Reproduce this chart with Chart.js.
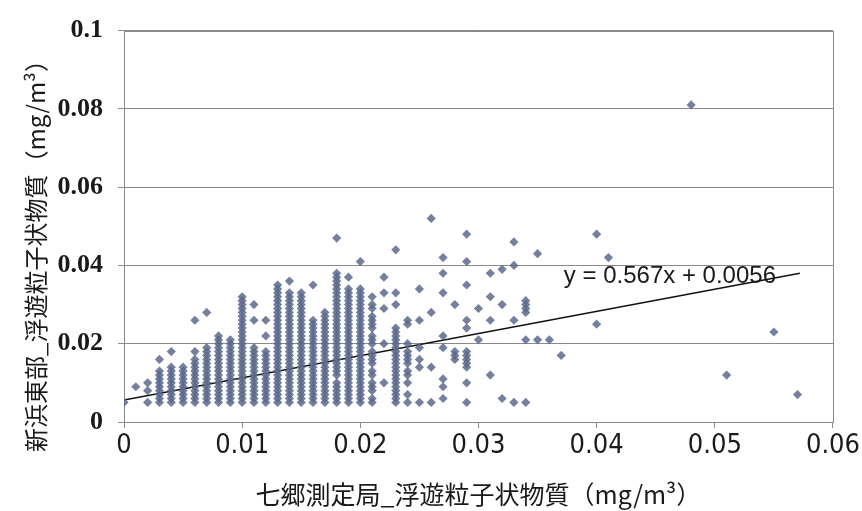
<!DOCTYPE html>
<html>
<head>
<meta charset="utf-8">
<script src="https://cdn.jsdelivr.net/npm/chart.js@4.4.1/dist/chart.umd.min.js"></script>
<style>
  html, body { margin: 0; padding: 0; background: #fff; }
  #wrap { width: 862px; height: 511px; }
</style>
</head>
<body>
<div id="wrap"><canvas id="scatter"></canvas></div>
<script>
// x columns of the scatter (mg/m3 x 1000)
let colX = [0, 1, 2, 3, 4, 5, 6, 7, 8, 9, 10, 11, 12, 13, 14, 15, 16, 17, 18, 19, 20,
            21, 22, 23, 24, 25, 26, 27, 28, 29, 30, 31, 32, 33, 34, 35, 36, 37, 40, 41,
            48, 51, 55, 57];
// y readings for each column (mg/m3 x 1000)
let colY = [
    [5],
    [9],
    [5, 8, 10],
    [5, 6, 7, 8, 9, 10, 11, 12, 13, 16],
    [5, 6, 7, 8, 9, 10, 11, 12, 13, 14, 18],
    [5, 6, 7, 8, 9, 10, 11, 12, 13, 14],
    [5, 6, 7, 8, 9, 10, 11, 12, 13, 14, 15, 16, 18, 26],
    [5, 6, 7, 8, 9, 10, 11, 12, 13, 14, 15, 16, 17, 18, 19, 28],
    [5, 6, 7, 8, 9, 10, 11, 12, 13, 14, 15, 16, 17, 18, 19, 20, 21, 22],
    [5, 6, 7, 8, 9, 10, 11, 12, 13, 14, 15, 16, 17, 18, 19, 20, 21],
    [5, 6, 7, 8, 9, 10, 11, 12, 13, 14, 15, 16, 17, 18, 19, 20, 21, 22, 23, 24, 25, 26, 27, 28, 29, 30, 31, 32],
    [5, 6, 7, 8, 9, 10, 11, 12, 13, 14, 15, 16, 17, 18, 19, 26, 30],
    [5, 6, 7, 8, 9, 10, 11, 12, 13, 14, 15, 16, 17, 18, 22, 26],
    [5, 6, 7, 8, 9, 10, 11, 12, 13, 14, 15, 16, 17, 18, 19, 20, 21, 22, 23, 24, 25, 26, 27, 28, 29, 30, 31, 32, 33, 34, 35],
    [5, 6, 7, 8, 9, 10, 11, 12, 13, 14, 15, 16, 17, 18, 19, 20, 21, 22, 23, 24, 25, 26, 27, 28, 29, 30, 31, 32, 33, 36],
    [5, 6, 7, 8, 9, 10, 11, 12, 13, 14, 15, 16, 17, 18, 19, 20, 21, 22, 23, 24, 25, 26, 27, 28, 29, 30, 31, 32, 33],
    [5, 6, 7, 8, 9, 10, 11, 12, 13, 14, 15, 16, 17, 18, 19, 20, 21, 22, 23, 24, 25, 26, 35],
    [5, 6, 7, 8, 9, 10, 11, 12, 13, 14, 15, 16, 17, 18, 19, 20, 21, 22, 23, 24, 25, 26, 27, 28],
    [5, 6, 7, 8, 9, 10, 12, 13, 14, 15, 16, 17, 18, 19, 20, 21, 22, 23, 24, 25, 26, 27, 28, 29, 30, 31, 32, 33, 34, 35, 36, 37, 38, 47],
    [5, 6, 7, 8, 9, 10, 11, 12, 13, 14, 15, 16, 17, 18, 19, 20, 21, 22, 23, 24, 25, 26, 27, 28, 29, 30, 31, 32, 33, 34, 37],
    [5, 6, 7, 8, 9, 10, 11, 12, 13, 14, 15, 16, 17, 18, 19, 20, 21, 22, 23, 24, 25, 26, 27, 28, 29, 30, 31, 32, 33, 34, 41],
    [5, 6, 8, 9, 10, 12, 13, 15, 16, 17, 18, 20, 21, 22, 24, 25, 26, 27, 29, 30, 32],
    [10, 20, 29, 33, 37],
    [5, 6, 7, 8, 9, 10, 11, 12, 13, 14, 15, 16, 17, 18, 19, 20, 21, 22, 23, 24, 30, 33, 44],
    [5, 7, 10, 12, 13, 15, 16, 17, 18, 20, 25, 26],
    [5, 14, 16, 19, 26, 34],
    [5, 14, 28, 52],
    [6, 9, 11, 19, 22, 33, 38, 42],
    [16, 17, 18, 30],
    [5, 10, 14, 15, 16, 17, 18, 24, 26, 35, 41, 48],
    [21, 29],
    [12, 26, 32, 38],
    [6, 30, 39],
    [5, 26, 40, 46],
    [5, 21, 28, 29, 30, 31],
    [21, 43],
    [21],
    [17],
    [25, 48],
    [42],
    [81],
    [12],
    [23],
    [7]
];
// trendline shown on the chart
let trendSlope = 0.567;
let trendIntercept = 0.0056;
let trendRange = [0, 0.0572];
let trendLabel = "y = 0.567x + 0.0056";

let xTicks = [0, 0.01, 0.02, 0.03, 0.04, 0.05, 0.06];
let yTicks = [0, 0.02, 0.04, 0.06, 0.08, 0.1];

let xTitle = "七郷測定局_浮遊粒子状物質（mg/m³）";
let yTitle = "新浜東部_浮遊粒子状物質（mg/m³）";

let points = [];
for (let i = 0; i < colX.length; i++) {
    for (let y of colY[i]) {
        points.push({ x: colX[i] / 1000, y: y / 1000 });
    }
}
let trendPoints = trendRange.map(x => ({ x: x, y: trendSlope * x + trendIntercept }));

let gridColor = "#8a8a8a";
let markColor = "rgba(92,106,140,0.85)";

// frame around the plot area + equation + vertical y title
let extrasPlugin = {
    id: "extras",
    beforeDatasetsDraw(chart) {
        let ctx = chart.ctx;
        let a = chart.chartArea;
        ctx.save();
        ctx.strokeStyle = gridColor;
        ctx.lineWidth = 1;
        ctx.strokeRect(Math.round(a.left) + 0.5, Math.round(a.top) + 0.5,
            Math.round(a.right - a.left), Math.round(a.bottom - a.top));
        ctx.restore();
    },
    afterDatasetsDraw(chart) {
        let ctx = chart.ctx;
        let xs = chart.scales.x, ys = chart.scales.y;
        ctx.save();
        ctx.fillStyle = "#1a1a1a";
        ctx.font = "24px 'Liberation Sans Narrow', 'Liberation Sans', sans-serif";
        ctx.textAlign = "center";
        ctx.textBaseline = "middle";
        ctx.fillText(trendLabel, xs.getPixelForValue(0.0462), ys.getPixelForValue(0.0372));
        ctx.restore();

        ctx.save();
        ctx.translate(36, 250);
        ctx.rotate(-Math.PI / 2);
        ctx.fillStyle = "#1a1a1a";
        ctx.font = "24px 'Noto Sans CJK JP', sans-serif";
        ctx.textAlign = "center";
        ctx.textBaseline = "middle";
        ctx.fillText(yTitle, 0, 0);
        ctx.restore();
    }
};

new Chart(document.getElementById("scatter"), {
    type: "scatter",
    data: {
        datasets: [
            {
                label: "data",
                data: points,
                pointStyle: "rectRot",
                pointRadius: 4.6,
                pointHoverRadius: 4.6,
                backgroundColor: markColor,
                borderColor: markColor,
                borderWidth: 0
            },
            {
                type: "line",
                label: "trend",
                data: trendPoints,
                borderColor: "#111",
                borderWidth: 1.5,
                pointRadius: 0,
                fill: false
            }
        ]
    },
    options: {
        responsive: true,
        maintainAspectRatio: false,
        animation: false,
        layout: { padding: { left: 0, top: 25, right: 29, bottom: 0 } },
        plugins: {
            legend: { display: false },
            tooltip: { enabled: false }
        },
        scales: {
            x: {
                type: "linear",
                min: 0,
                max: 0.06,
                afterBuildTicks: scale => { scale.ticks = xTicks.map(v => ({ value: v })); },
                afterFit: scale => { scale.height = 89; },
                grid: { drawOnChartArea: false, drawTicks: true, tickLength: 6, color: gridColor },
                border: { display: true, color: gridColor },
                ticks: {
                    color: "#1a1a1a",
                    padding: 2,
                    maxRotation: 0,
                    font: { family: "'Liberation Sans Narrow', 'DejaVu Sans Condensed', sans-serif", size: 27 },
                    callback: v => String(v)
                },
                title: {
                    display: true,
                    text: xTitle,
                    color: "#1a1a1a",
                    padding: { top: 0, bottom: 2 },
                    font: { family: "'Noto Sans CJK JP', sans-serif", size: 25 }
                }
            },
            y: {
                type: "linear",
                min: 0,
                max: 0.1,
                afterBuildTicks: scale => { scale.ticks = yTicks.map(v => ({ value: v })); },
                afterFit: scale => { scale.width = 124; },
                grid: { drawTicks: true, tickLength: 6, color: gridColor },
                border: { display: true, color: gridColor },
                ticks: {
                    color: "#1a1a1a",
                    padding: 15,
                    font: { family: "'Liberation Serif', serif", size: 26, weight: "bold" },
                    callback: v => String(v)
                }
            }
        }
    },
    plugins: [extrasPlugin]
});
</script>
</body>
</html>
